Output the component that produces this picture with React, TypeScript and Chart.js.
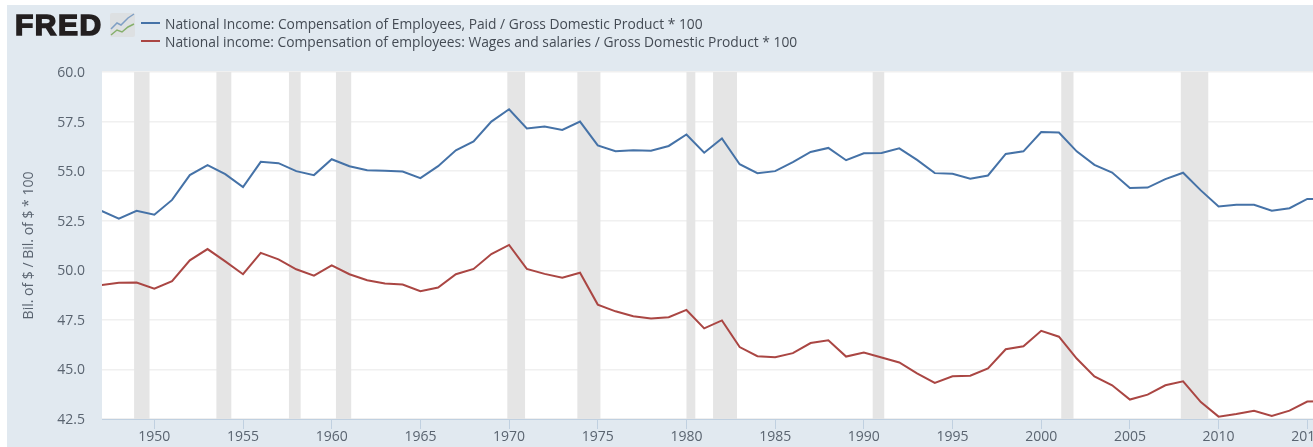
import React, { useEffect, useRef } from "react";
import { Chart, registerables } from "chart.js";

Chart.register(...registerables);

const years = [1947,1948,1949,1950,1951,1952,1953,1954,1955,1956,1957,1958,1959,1960,1961,1962,1963,1964,1965,1966,1967,1968,1969,1970,1971,1972,1973,1974,1975,1976,1977,1978,1979,1980,1981,1982,1983,1984,1985,1986,1987,1988,1989,1990,1991,1992,1993,1994,1995,1996,1997,1998,1999,2000,2001,2002,2003,2004,2005,2006,2007,2008,2009,2010,2011,2012,2013,2014,2015,2016];
const compensation = [53.0,52.6,53.0,52.8,53.55,54.8,55.3,54.85,54.2,55.47,55.4,55.0,54.8,55.6,55.25,55.05,55.02,54.98,54.65,55.25,56.05,56.5,57.5,58.12,57.15,57.25,57.08,57.5,56.3,56.0,56.05,56.03,56.27,56.85,55.93,56.65,55.35,54.9,55.0,55.45,55.97,56.17,55.55,55.9,55.92,56.15,55.57,54.9,54.87,54.62,54.78,55.87,56.0,56.97,56.95,56.0,55.32,54.93,54.15,54.17,54.6,54.92,54.03,53.22,53.3,53.3,53.0,53.13,53.6,53.6];
const wages = [49.25,49.37,49.38,49.07,49.45,50.5,51.07,50.45,49.8,50.88,50.55,50.05,49.73,50.25,49.8,49.5,49.33,49.28,48.95,49.13,49.8,50.07,50.82,51.28,50.07,49.82,49.63,49.88,48.27,47.93,47.68,47.57,47.63,48.0,47.07,47.47,46.13,45.67,45.62,45.82,46.33,46.47,45.65,45.85,45.6,45.35,44.8,44.32,44.65,44.68,45.05,46.02,46.17,46.95,46.65,45.55,44.65,44.2,43.48,43.73,44.2,44.4,43.35,42.62,42.75,42.92,42.65,42.92,43.38,43.4];
const recessionStarts = [1948.86,1953.5,1957.59,1960.24,1969.9,1973.85,1980.0,1981.5,1990.5,2001.13,2007.87];
const recessionEnds = [1949.73,1954.34,1958.25,1961.1,1970.9,1975.15,1980.5,1982.85,1991.15,2001.82,2009.42];
const xTicks = [1950,1955,1960,1965,1970,1975,1980,1985,1990,1995,2000,2005,2010,2015];
const yTicks = [42.5,45,47.5,50,52.5,55,57.5,60];
const compensationLabel = "National Income: Compensation of Employees, Paid / Gross Domestic Product * 100";
const wagesLabel = "National income: Compensation of employees: Wages and salaries / Gross Domestic Product * 100";
const BLUE = "#4572a7";
const RED = "#aa4643";

const FONT = '"Open Sans", "Noto Sans", sans-serif';
const TEXT = "#5a6470";

const framePlugin = {
  id: "frame",
  beforeDraw(chart: any) {
    const { ctx, chartArea: a } = chart;
    ctx.save();
    ctx.fillStyle = "#ffffff";
    ctx.fillRect(a.left, a.top, a.right - a.left, a.bottom - a.top);
    ctx.restore();
  },
  beforeDatasetsDraw(chart: any) {
    const { ctx, chartArea: a, scales } = chart;
    ctx.save();
    ctx.fillStyle = "#e5e5e5";
    recessionStarts.forEach((s, i) => {
      const x0 = scales.x.getPixelForValue(s);
      const x1 = scales.x.getPixelForValue(recessionEnds[i]);
      ctx.fillRect(x0, a.top, x1 - x0, a.bottom - a.top);
    });
    ctx.restore();
  },
};

function LegendRow({ color, text, top }: { color: string; text: string; top: number }) {
  return (
    <div style={{ position: "absolute", left: 141, top, height: 18, display: "flex", alignItems: "center", whiteSpace: "nowrap", fontFamily: FONT, fontSize: 13.8, color: "#444b54" }}>
      <span style={{ display: "inline-block", width: 19, height: 2, background: color, marginRight: 5 }} />
      <span>{text}</span>
    </div>
  );
}

export default function App() {
  const ref = useRef<HTMLCanvasElement | null>(null);
  useEffect(() => {
    const chart = new Chart(ref.current as HTMLCanvasElement, {
      type: "line",
      plugins: [framePlugin],
      data: {
        labels: years,
        datasets: [
          { label: compensationLabel, data: years.map((y, i) => ({ x: y, y: compensation[i] })), borderColor: BLUE, backgroundColor: BLUE, borderWidth: 2, pointRadius: 0, tension: 0 },
          { label: wagesLabel, data: years.map((y, i) => ({ x: y, y: wages[i] })), borderColor: RED, backgroundColor: RED, borderWidth: 2, pointRadius: 0, tension: 0 },
        ],
      },
      options: {
        animation: false,
        responsive: false,
        layout: { padding: { left: 7, top: 72, right: 75, bottom: 0 } },
        plugins: {
          tooltip: { enabled: false },
          legend: { display: false },
        },
        scales: {
          x: {
            type: "linear",
            min: 1947.05,
            max: 2016,
            afterBuildTicks(s: any) { s.ticks = xTicks.map((value) => ({ value })); },
            afterFit(s: any) { s.height = 28; },
            grid: { drawOnChartArea: false, drawTicks: true, tickLength: 10, tickColor: "#c0d0e0", tickWidth: 1 },
            border: { color: "#c0d0e0", width: 1 },
            ticks: { autoSkip: false, maxRotation: 0, padding: 0, color: TEXT, font: { family: FONT, size: 14 }, callback: (v: any) => String(v) },
          },
          y: {
            min: 42.5,
            max: 60,
            afterBuildTicks(s: any) { s.ticks = yTicks.map((value) => ({ value })); },
            afterFit(s: any) { s.width = 95; },
            title: { display: true, text: "Bil. of $ / Bil. of $ * 100", color: TEXT, font: { family: FONT, size: 14 }, padding: { top: 14, bottom: 0 } },
            grid: { color: "#f0f0f0", lineWidth: 1.5, drawTicks: false },
            border: { display: false },
            ticks: { padding: 17, labelOffset: 1, color: TEXT, font: { family: FONT, size: 14 }, callback: (v: any) => Number(v).toFixed(1) },
          },
        },
      },
    } as any);
    return () => chart.destroy();
  }, []);

  return (
    <div style={{ position: "fixed", left: 0, top: 0, width: 1313, height: 447, overflow: "hidden", background: "#ffffff" }}>
      <div style={{ position: "absolute", left: 7, top: 5, width: 1306, height: 442, background: "#e1e9f0" }} />
      <canvas ref={ref} width={1400} height={447} style={{ position: "absolute", left: 0, top: 0, width: 1400, height: 447 }} />
      <div style={{ position: "absolute", left: 15, top: 7, fontFamily: '"Liberation Sans", sans-serif', fontWeight: 900, fontSize: 30, lineHeight: "36px", letterSpacing: 1.5, color: "#231f20", WebkitTextStroke: "1.6px #231f20" }}>FRED</div>
      <svg width={25} height={24} viewBox="0 0 25 24" style={{ position: "absolute", left: 110, top: 13 }}>
        <rect x={0} y={0} width={25} height={24} rx={2} fill="#dde0e2" />
        <polyline points="1,16 7,10 11,12 18,5 24,1" fill="none" stroke="#7f9fc4" strokeWidth={1.5} />
        <polyline points="1,22 7,17 12,19 18,14 24,11" fill="none" stroke="#86b06c" strokeWidth={1.5} />
      </svg>
      <LegendRow color={BLUE} text={compensationLabel} top={14} />
      <LegendRow color={RED} text={wagesLabel} top={32} />
    </div>
  );
}
